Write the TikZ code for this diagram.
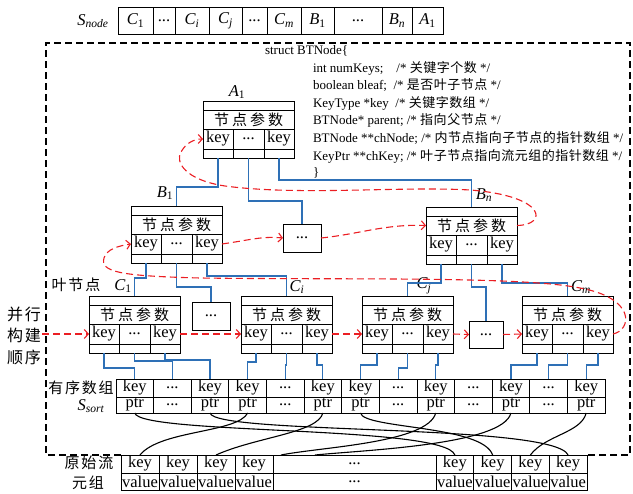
\documentclass[tikz,border=0pt]{standalone}
\usepackage{fontspec}
\setmainfont{Liberation Serif}
\newfontfamily\cjk[LetterSpace=4]{Noto Sans CJK SC}
\newfontfamily\cjkp[LetterSpace=20]{Noto Sans CJK SC}
\newfontfamily\cjkl[LetterSpace=12]{Noto Sans CJK SC}
\usetikzlibrary{arrows.meta}
\definecolor{lnblue}{RGB}{46,112,182}
\definecolor{arred}{RGB}{235,30,35}
\tikzset{
  every node/.style={inner sep=0pt, outer sep=0pt},
  cell/.style={draw, line width=0.8pt, anchor=north west, font=\fontsize{16.5}{16.5}\selectfont},
  lbl/.style={font=\fontsize{16.5}{16.5}\selectfont},
  cjklbl/.style={font=\fontsize{15}{15}\selectfont\cjkl},
  bl/.style={draw=lnblue, line width=1.1pt},
  rd/.style={draw=arred, line width=1.1pt, dash pattern=on 7pt off 4pt, -{Straight Barb[length=4pt,width=9pt]}},
  cv/.style={draw=black, line width=1.1pt},
  code/.style={anchor=west, font=\fontsize{13}{13}\selectfont},
  frame/.style={draw=black, line width=1.1pt, dash pattern=on 7pt off 4pt},
  btn/.pic={
    \node[cell, minimum width=91pt, minimum height=9pt] (-top) at (0,0) {};
    \node[cell, minimum width=91pt, minimum height=19pt, font=\fontsize{15}{15}\selectfont\cjkp] (-par) at (0,9) {节点参数};
    \node[cell, minimum width=30pt, minimum height=20pt] (-k1) at (0,28) {key};
    \node[cell, minimum width=31pt, minimum height=20pt] (-k2) at (30,28) {...};
    \node[cell, minimum width=30pt, minimum height=20pt] (-k3) at (61,28) {key};
    \node[cell, minimum width=30pt, minimum height=9pt] (-b1) at (0,48) {};
    \node[cell, minimum width=31pt, minimum height=9pt] (-b2) at (30,48) {};
    \node[cell, minimum width=30pt, minimum height=9pt] (-b3) at (61,48) {};
  }
}
\begin{document}
\begin{tikzpicture}[x=1pt,y=-1pt]
\useasboundingbox (0,0) rectangle (633,494);

% dashed frame
\draw[frame] (121,455) -- (46,455) -- (46,43) -- (630,43) -- (630,455) -- (587,455);

% S_node bar
\node[lbl] (snlab) at (93,21) {\textit{S}\textsubscript{\textit{node}}};
\node[cell, lbl, minimum width=35pt, minimum height=27pt] (N0) at (118,7) {\textit{C}\textsubscript{1}};
\node[cell, lbl, minimum width=22pt, minimum height=27pt] (N1) at (153,7) {...};
\node[cell, lbl, minimum width=34pt, minimum height=27pt] (N2) at (175,7) {\textit{C}\textsubscript{\textit{i}}};
\node[cell, lbl, minimum width=33pt, minimum height=27pt] (N3) at (209,7) {\textit{C}\textsubscript{\textit{j}}};
\node[cell, lbl, minimum width=25pt, minimum height=27pt] (N4) at (242,7) {...};
\node[cell, lbl, minimum width=34pt, minimum height=27pt] (N5) at (267,7) {\textit{C}\textsubscript{\textit{m}}};
\node[cell, lbl, minimum width=33pt, minimum height=27pt] (N6) at (301,7) {\textit{B}\textsubscript{1}};
\node[cell, lbl, minimum width=48pt, minimum height=27pt] (N7) at (334,7) {...};
\node[cell, lbl, minimum width=30pt, minimum height=27pt] (N8) at (382,7) {\textit{B}\textsubscript{\textit{n}}};
\node[cell, lbl, minimum width=31pt, minimum height=27pt] (N9) at (412,7) {\textit{A}\textsubscript{1}};

% struct text
\node[code] (s0) at (265,51) {struct BTNode\{};
\node[code] (s1) at (313,68) {int numKeys;\ \ \ \ /* {\cjk 关键字个数} */};
\node[code] (s2) at (313,85) {boolean bleaf;\ \ /* {\cjk 是否叶子节点} */};
\node[code] (s3) at (313,103) {KeyType *key\ \ /* {\cjk 关键字数组} */};
\node[code] (s4) at (313,120) {BTNode* parent;\ /* {\cjk 指向父节点} */};
\node[code] (s5) at (313,138) {BTNode **chNode; /* {\cjk 内节点指向子节点的指针数组} */};
\node[code] (s6) at (313,156) {KeyPtr **chKey;\ /* {\cjk 叶子节点指向流元组的指针数组} */};
\node[code] (s7) at (313,173) {\}};

% tree nodes
\pic (A1) at (203,101) {btn};
\pic (B1) at (131,206) {btn};
\pic (Bn) at (426,207) {btn};
\pic (C1) at (89,296) {btn};
\pic (Ci) at (241,296) {btn};
\pic (Cj) at (362,296) {btn};
\pic (Cm) at (522,296) {btn};

\node[cell, minimum width=38pt, minimum height=28pt] (D1) at (283,224) {...};
\node[cell, minimum width=38pt, minimum height=28pt] (D2) at (192,302) {...};
\node[cell, minimum width=34pt, minimum height=27pt] (D3) at (469,321) {...};

% labels
\node[lbl] (A1lab) at (237,92) {\textit{A}\textsubscript{1}};
\node[lbl] (B1lab) at (165,193) {\textit{B}\textsubscript{1}};
\node[lbl] (Bnlab) at (484,195) {\textit{B}\textsubscript{\textit{n}}};
\node[lbl] (C1lab) at (123,286) {\textit{C}\textsubscript{1}};
\node[lbl] (Cilab) at (297,287) {\textit{C}\textsubscript{\textit{i}}};
\node[lbl] (Cjlab) at (424,286) {\textit{C}\textsubscript{\textit{j}}};
\node[lbl] (Cmlab) at (581,287) {\textit{C}\textsubscript{\textit{m}}};
\node[cjklbl] (leaf) at (76,285) {叶节点};
\node[cjklbl, font=\fontsize{16}{16}\selectfont\cjkl] (bx1) at (24,314) {并行};
\node[cjklbl, font=\fontsize{16}{16}\selectfont\cjkl] (bx2) at (24,335) {构建};
\node[cjklbl, font=\fontsize{16}{16}\selectfont\cjkl] (bx3) at (24,357) {顺序};
\node[cjklbl] (sorted) at (81,388) {有序数组};
\node[lbl] (ssort) at (91,406) {\textit{S}\textsubscript{\textit{sort}}};
\node[cjklbl] (orig1) at (89,463) {原始流};
\node[cjklbl] (orig2) at (88,483) {元组};

% sorted array
\foreach \k/\t in {0/1,1/0,2/1,3/1,4/0,5/1,6/1,7/0,8/1,9/0,10/1,11/0,12/1} {
  \node[cell, minimum width=37.6pt, minimum height=18pt] (S\k) at ({116+37.615*\k},379) {\ifnum\t=1 key\else ...\fi};
  \node[cell, minimum width=37.6pt, minimum height=16pt] (P\k) at ({116+37.615*\k},397) {\ifnum\t=1 ptr\else ...\fi};
}

% original tuples
\foreach \k in {0,1,2,3} {
  \node[cell, minimum width=38pt, minimum height=18pt] (V\k) at ({121+38*\k},455) {key};
  \node[cell, minimum width=38pt, minimum height=17pt] (W\k) at ({121+38*\k},473) {value};
}
\node[cell, minimum width=163pt, minimum height=18pt] (VM) at (273,455) {...};
\node[cell, minimum width=163pt, minimum height=17pt] (WM) at (273,473) {...};
\foreach \k in {4,5,6,7} {
  \node[cell, minimum width=37.75pt, minimum height=18pt] (V\k) at ({436+37.75*(\k-4)},455) {key};
  \node[cell, minimum width=37.75pt, minimum height=17pt] (W\k) at ({436+37.75*(\k-4)},473) {value};
}

% blue tree links
\draw[bl] (A1-b1.south) |- ([yshift=19pt]B1-top.north) -- (B1-top.north);
\draw[bl] (A1-b2.south) |- ([yshift=23pt]D1.north) -- (D1.north);
\draw[bl] (A1-b3.south) |- ([yshift=27pt]Bn-top.north) -- (Bn-top.north);
\draw[bl] (B1-b1.south) |- ([yshift=18pt]C1-top.north) -- (C1-top.north);
\draw[bl] (B1-b2.south) |- ([yshift=15pt]D2.north) -- (D2.north);
\draw[bl] (B1-b3.south) |- ([yshift=20pt]Ci-top.north) -- (Ci-top.north);
\draw[bl] (Bn-b1.south) |- ([yshift=13pt]Cj-top.north) -- (Cj-top.north);
\draw[bl] (Bn-b2.south) |- ([yshift=34pt]D3.north) -- (D3.north);
\draw[bl] (Bn-b3.south) |- ([yshift=13pt]Cm-top.north) -- (Cm-top.north);
% blue leaf links
\draw[bl] (C1-b1.south) |- ([yshift=11pt]S0.north) -- (S0.north);
\draw[bl] (C1-b2.south) |- ([yshift=18pt]S1.north) -- (S1.north);
\draw[bl] (C1-b3.south) |- ([yshift=19pt]S2.north) -- (S2.north);
\draw[bl] (Ci-b1.south) |- ([yshift=17pt]S3.north) -- (S3.north);
\draw[bl] (Ci-b2.south) |- ([yshift=14pt]S4.north) -- (S4.north);
\draw[bl] (Ci-b3.south) |- ([yshift=14pt]S5.north) -- (S5.north);
\draw[bl] (Cj-b1.south) |- ([yshift=14pt]S6.north) -- (S6.north);
\draw[bl] (Cj-b2.south) |- ([yshift=11pt]S7.north) -- (S7.north);
\draw[bl] (Cj-b3.south) |- ([yshift=14pt]S8.north) -- (S8.north);
\draw[bl] (Cm-b1.south) |- ([yshift=14pt]S10.north) -- (S10.north);
\draw[bl] (Cm-b2.south) |- ([yshift=14pt]S11.north) -- (S11.north);
\draw[bl] (Cm-b3.south) |- ([yshift=14pt]S12.north) -- (S12.north);

% red build-order arrows
\coordinate (start) at (42,334);
\draw[rd] (start) -- (C1-k1.west);
\draw[rd] (C1-k3.east) -- (Ci-k1.west);
\draw[rd] (Ci-k3.east) -- (Cj-k1.west);
\draw[rd] (Cj-k3.east) -- (D3.west);
\draw[rd] (D3.east) -- (Cm-k1.west);
\draw[rd] (Cm-k3.east) .. controls (632,330) and (636,298) .. (580,288)
   .. controls (520,276) and (350,280) .. (200,278)
   .. controls (120,276) and (100,272) .. (104,258)
   .. controls (107,249) and (118,246) .. (B1-k1.west);
\draw[rd] (B1-k3.east) .. controls (250,240) and (262,236) .. (D1.west);
\draw[rd] (D1.east) .. controls (360,234) and (385,224) .. (Bn-par.west);
\draw[rd] (Bn-par.east) .. controls (548,225) and (547,196) .. (470,190)
   .. controls (400,186) and (300,196) .. (225,186)
   .. controls (185,180) and (175,162) .. (181,152)
   .. controls (186,143) and (194,139) .. (A1-k1.west);

% pointer curves
\coordinate (m1) at ([xshift=8pt]VM.north west);
\coordinate (m2) at ([xshift=42pt]VM.north west);
\draw[cv] (P0.south) .. controls +(5,22) and +(-10,-30) .. (V4.north);
\draw[cv] (P2.south) .. controls +(5,22) and +(-15,-32) .. (V7.north);
\draw[cv] (P3.south) .. controls +(-10,20) and +(20,-25) .. (V0.north);
\draw[cv] (P5.south) .. controls +(-5,20) and +(40,-18) .. (V2.north);
\draw[cv] (P6.south) .. controls +(3,16) and +(-10,-30) .. (V5.north);
\draw[cv] (P8.south) .. controls +(-8,30) and +(40,-8) .. (m1);
\draw[cv] (P10.south) .. controls +(-8,32) and +(50,-5) .. (m2);
\draw[cv] (P12.south) .. controls +(-5,20) and +(15,-20) .. (V6.north);
\end{tikzpicture}
\end{document}
